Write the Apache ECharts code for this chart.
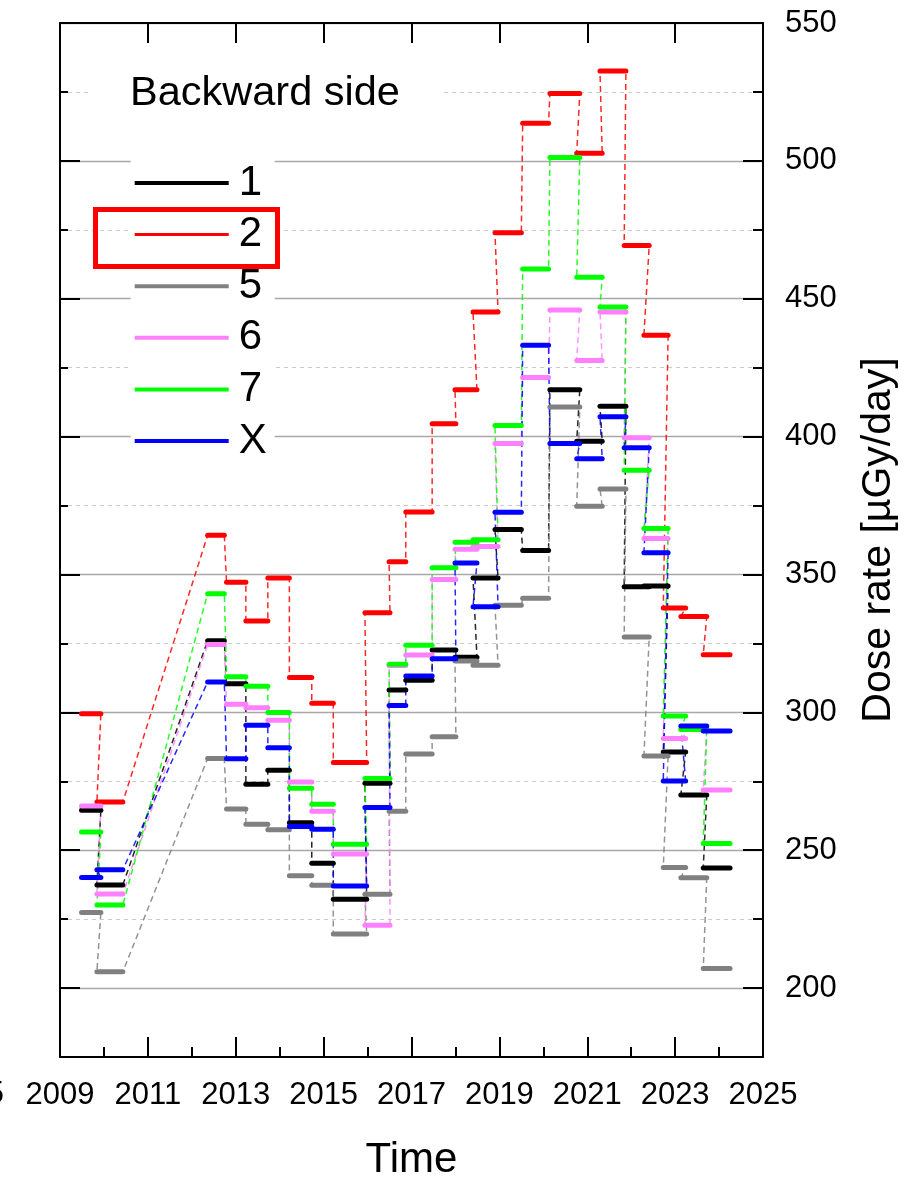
<!DOCTYPE html>
<html><head><meta charset="utf-8">
<script src="https://cdn.jsdelivr.net/npm/echarts@6/dist/echarts.min.js"></script>
<style>html,body{margin:0;padding:0;background:#fff}#c{width:906px;height:1178px}</style>
</head><body><div id="c"></div>
<script>
// ---- data ----
const periodStart = [2009.49, 2009.84, 2012.36, 2012.79, 2013.23, 2013.73, 2014.22, 2014.73, 2015.22, 2015.94, 2016.49, 2016.87, 2017.47, 2017.99, 2018.40, 2018.90, 2019.53, 2020.15, 2020.76, 2021.29, 2021.84, 2022.29, 2022.73, 2023.13, 2023.64];
const periodEnd   = [2009.93, 2010.43, 2012.74, 2013.23, 2013.73, 2014.22, 2014.73, 2015.22, 2015.98, 2016.51, 2016.87, 2017.47, 2018.01, 2018.49, 2018.97, 2019.50, 2020.12, 2020.83, 2021.34, 2021.88, 2022.41, 2022.84, 2023.24, 2023.72, 2024.25];

const seriesNames  = ['1', '2', '5', '6', '7', 'X'];
const seriesColors = ['#000000', '#ff0000', '#808080', '#ff80ff', '#00ff00', '#0000ff'];

const values1 = [264.5, 237.4, 326.0, 310.4, 273.9, 279.0, 260.0, 245.3, 232.2, 274.3, 308.1, 311.6, 322.6, 320.0, 348.7, 366.3, 358.7, 417.0, 398.3, 411.0, 345.5, 345.8, 285.6, 270.0, 243.5];
const values2 = [299.5, 267.5, 364.2, 347.2, 333.1, 348.7, 312.6, 303.3, 281.8, 336.1, 354.6, 372.7, 404.7, 417.0, 445.2, 473.9, 513.6, 524.4, 502.8, 532.6, 469.3, 436.8, 337.8, 334.8, 320.9];
const values5 = [227.4, 205.9, 283.3, 264.9, 259.4, 257.4, 240.7, 237.3, 219.6, 234.0, 264.1, 284.9, 291.1, 318.6, 317.1, 338.8, 341.4, 410.7, 374.7, 381.0, 327.3, 284.2, 243.7, 240.0, 207.1];
const values6 = [266.0, 234.1, 324.6, 302.9, 301.7, 297.1, 274.7, 264.1, 248.6, 222.8, 317.0, 320.8, 348.2, 359.1, 360.1, 397.5, 421.4, 445.9, 427.6, 445.2, 399.6, 363.0, 290.5, 294.0, 271.8];
const values7 = [256.6, 230.1, 343.0, 312.9, 309.5, 299.9, 272.5, 266.7, 252.2, 276.0, 317.4, 324.3, 352.4, 361.7, 362.6, 404.0, 460.8, 501.2, 457.8, 447.0, 387.8, 366.7, 298.7, 293.8, 252.4];
const valuesX = [240.1, 242.9, 311.0, 283.2, 295.3, 287.2, 258.6, 257.6, 237.0, 265.5, 302.5, 313.2, 319.4, 354.2, 338.3, 372.6, 433.1, 397.5, 392.0, 407.2, 396.0, 357.9, 275.1, 295.0, 293.2];

const xTickLabels  = [2009, 2011, 2013, 2015, 2017, 2019, 2021, 2023, 2025];
const xMinorTicks  = [2010, 2012, 2014, 2016, 2018, 2020, 2022, 2024];
const yMajorTicks  = [200, 250, 300, 350, 400, 450, 500, 550];
const yMinorTicks  = [225, 275, 325, 375, 425, 475, 525];

const legendTitle = 'Backward side';
const xAxisTitle = 'Time';
const yAxisTitle = 'Dose rate [\u00b5Gy/day]';

// ---- chart ----
const FONT = '"Liberation Sans", Arial, sans-serif';
const allValues = [values1, values2, values5, values6, values7, valuesX];
const X_MIN = 2009, X_MAX = 2025, Y_MIN = 175, Y_MAX = 550;

function segRenderer(color) {
  return function (params, api) {
    const a = api.coord([api.value(0), api.value(2)]);
    const b = api.coord([api.value(1), api.value(2)]);
    return {
      type: 'line',
      shape: { x1: a[0], y1: a[1], x2: b[0], y2: b[1] },
      style: { stroke: color, lineWidth: 5, lineCap: 'round', fill: null }
    };
  };
}

const series = [];
seriesNames.forEach((name, i) => {
  const vals = allValues[i];
  const color = seriesColors[i];
  const segData = vals.map((v, k) => [periodStart[k], periodEnd[k], v]);
  const pathData = [];
  vals.forEach((v, k) => { pathData.push([periodStart[k], v]); pathData.push([periodEnd[k], v]); });
  series.push({
    type: 'custom', name: name, data: segData, encode: { x: [0, 1], y: 2 },
    itemStyle: { color: color }, renderItem: segRenderer(color), z: 4, silent: true
  });
  series.push({
    type: 'line', name: name, data: pathData, symbol: 'none', showSymbol: false,
    color: color, lineStyle: { color: color, width: 1.5, type: [6, 4], opacity: 0.85 },
    z: 3, silent: true, animation: false
  });
});

const axisBlack = { color: '#000', width: 2 };

const option = {
  animation: false,
  backgroundColor: '#fff',
  grid: { left: 60, right: 143, top: 23, bottom: 121, containLabel: false, outerBoundsMode: 'none' },
  title: {
    text: legendTitle, left: 90, top: 71, padding: [2, 44, 2, 40], backgroundColor: '#fff',
    textStyle: { fontSize: 41.5, fontWeight: 'normal', color: '#000', fontFamily: FONT, lineHeight: 42 }
  },
  legend: {
    orient: 'vertical', left: 130.7, top: 158, selectedMode: false,
    data: seriesNames.map(n => n === '2' ? { name: n, icon: 'path://M0 0H94V3H0Z' } : { name: n }),
    icon: 'rect', itemWidth: 94, itemHeight: 4, itemGap: 9.6,
    backgroundColor: '#fff', padding: [4, 8, 4, 4],
    textStyle: { fontSize: 42, lineHeight: 40, color: '#000', fontFamily: FONT, padding: [0, 0, 0, 5] }
  },
  xAxis: [
    {
      type: 'value', position: 'bottom', min: X_MIN, max: X_MAX, interval: 2,
      axisLine: { lineStyle: axisBlack },
      axisTick: { inside: true, length: 20, lineStyle: axisBlack },
      axisLabel: { customValues: xTickLabels, fontSize: 31, color: '#000', margin: 23, fontFamily: FONT, formatter: v => String(v) },
      splitLine: { show: false },
      name: xAxisTitle, nameLocation: 'middle', nameGap: 82,
      nameTextStyle: { fontSize: 42, color: '#000', fontFamily: FONT }
    },
    {
      type: 'value', position: 'top', min: X_MIN, max: X_MAX, interval: 2,
      axisLine: { lineStyle: axisBlack },
      axisTick: { inside: true, length: 20, lineStyle: axisBlack },
      axisLabel: { show: false }, splitLine: { show: false }
    },
    {
      type: 'value', position: 'bottom', min: X_MIN, max: X_MAX,
      axisLine: { show: false },
      axisTick: { inside: true, length: 10, customValues: xMinorTicks, lineStyle: axisBlack },
      axisLabel: { show: false }, splitLine: { show: false }
    }
  ],
  yAxis: [
    {
      type: 'value', position: 'right', min: Y_MIN, max: Y_MAX,
      axisLine: { show: true, lineStyle: axisBlack },
      axisTick: { show: true, inside: true, length: 20, customValues: yMajorTicks, lineStyle: axisBlack },
      axisLabel: { customValues: yMajorTicks, fontSize: 31, color: '#000', margin: 22, fontFamily: FONT, formatter: v => String(v) },
      splitLine: { show: true, lineStyle: { color: '#a8a8a8', width: 1.3, type: 'solid' } },
      name: yAxisTitle, nameLocation: 'middle', nameRotate: 90, nameGap: 95,
      nameTextStyle: { fontSize: 41, color: '#000', fontFamily: FONT }
    },
    {
      type: 'value', position: 'right', min: Y_MIN, max: Y_MAX,
      axisLine: { show: false },
      axisTick: { show: true, inside: true, length: 10, customValues: yMinorTicks, lineStyle: axisBlack },
      axisLabel: { show: false },
      splitLine: { show: true, lineStyle: { color: '#cccccc', width: 1, type: [4, 4] } }
    },
    {
      type: 'value', position: 'left', min: Y_MIN, max: Y_MAX,
      axisLine: { show: true, lineStyle: axisBlack },
      axisTick: { show: true, inside: true, length: 20, customValues: yMajorTicks, lineStyle: axisBlack },
      axisLabel: { show: false }, splitLine: { show: false }
    },
    {
      type: 'value', position: 'left', min: Y_MIN, max: Y_MAX,
      axisLine: { show: false },
      axisTick: { show: true, inside: true, length: 8, customValues: yMinorTicks, lineStyle: axisBlack },
      axisLabel: { show: false }, splitLine: { show: false }
    }
  ],
  graphic: [
    { type: 'rect', z: 100, shape: { x: 95.5, y: 209.5, width: 182, height: 57 },
      style: { fill: null, stroke: '#ff0000', lineWidth: 5 } },
    { type: 'text', z: 100, x: 4, y: 1094,
      style: { text: '5', font: '31px ' + FONT, fill: '#000', textAlign: 'right', textVerticalAlign: 'middle' } }
  ],
  series: series
};

const chart = echarts.init(document.getElementById('c'), null, { renderer: 'canvas' });
chart.setOption(option);
</script>
</body></html>
